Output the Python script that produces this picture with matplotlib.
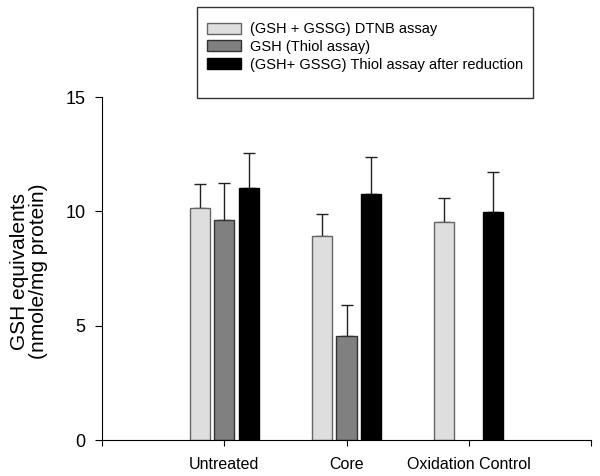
import numpy as np
import matplotlib.pyplot as plt
from matplotlib.patches import Rectangle

plt.rcParams['font.family'] = ['Liberation Sans', 'DejaVu Sans']

# data
groups = ['Untreated', 'Core', 'Oxidation Control']
series = ['(GSH + GSSG) DTNB assay', 'GSH (Thiol assay)',
          '(GSH+ GSSG) Thiol assay after reduction']
dtnb = [10.13, 8.91, 9.52]
dtnb_err = [1.05, 0.98, 1.05]
thiol = [9.63, 4.55, np.nan]
thiol_err = [1.62, 1.35, np.nan]
reduced = [11.03, 10.76, 9.96]
reduced_err = [1.53, 1.61, 1.75]

colors = ['#dedede', '#808080', '#000000']
edges = ['#666666', '#333333', '#000000']

fig = plt.figure(figsize=(6, 4.76), dpi=100)
ax = fig.add_axes([0.17, 0.0756, 0.815, 0.7206])

x = np.arange(1, len(groups) + 1)
width = 0.165
offsets = [-0.2, 0.0, 0.2]
vals = [dtnb, thiol, reduced]
errs = [dtnb_err, thiol_err, reduced_err]

handles = []
for i in range(3):
    b = ax.bar(x + offsets[i], vals[i], width, color=colors[i],
               edgecolor=edges[i], linewidth=1.0, label=series[i], zorder=2)
    ax.errorbar(x + offsets[i], vals[i], yerr=[np.zeros(3), errs[i]],
                fmt='none', ecolor='#222222', elinewidth=1.0, capsize=4,
                capthick=1.0, zorder=1)
    handles.append(b)

ax.set_xlim(0, 4)
ax.set_ylim(0, 15)
ax.set_xticks([0, 1, 2, 3, 4])
ax.set_xticklabels(['', 'Untreated', 'Core', 'Oxidation Control', ''], fontsize=11.5)
ax.set_yticks([0, 5, 10, 15])
ax.tick_params(axis='y', labelsize=13, length=5, direction='out', width=0.8, pad=7)
ax.tick_params(axis='x', length=4, direction='out', width=0.8, pad=8)
ax.spines['top'].set_visible(False)
ax.spines['right'].set_visible(False)
fig.text(10 / 600, 0.5 * (2 - (190 + 352) / 476), 'GSH equivalents\n(nmole/mg protein)',
         rotation=90, fontsize=15, ha='left', va='center', ma='center',
         linespacing=1.0)

# legend box
fig.patches.append(Rectangle((197 / 600, 1 - 98 / 476), 336 / 600, 91 / 476,
                             transform=fig.transFigure, fill=False,
                             edgecolor='#333333', linewidth=1.0))
fig.legend(handles=handles, loc='upper left',
           bbox_to_anchor=(197 / 600, 1 - 12 / 476), frameon=False,
           fontsize=10.5, handlelength=2.35, handleheight=0.8,
           labelspacing=0.25, handletextpad=0.6, borderpad=0.2)

fig.savefig('out.png', dpi=100)
